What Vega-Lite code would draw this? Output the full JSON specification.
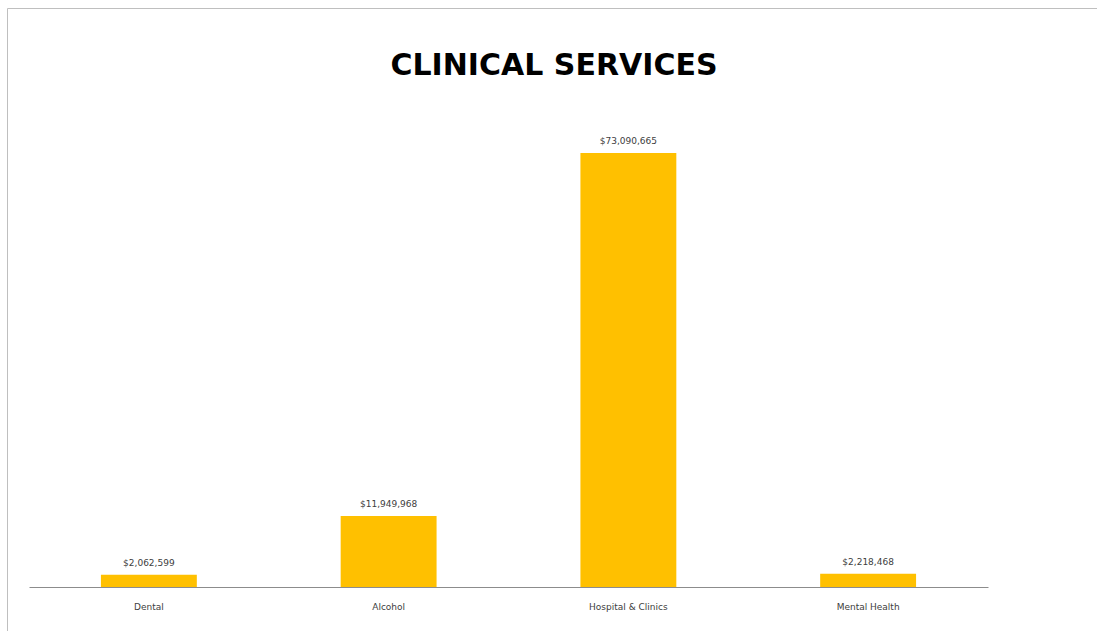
{
  "$schema": "https://vega.github.io/schema/vega-lite/v6.json",
  "autosize": {"type": "none"},
  "padding": {"left": 7, "top": 8, "right": 0, "bottom": 0},
  "width": 1100,
  "height": 640,
  "background": "white",
  "title": {
    "text": "CLINICAL SERVICES",
    "font": "DejaVu Sans",
    "fontSize": 30,
    "fontWeight": "bold",
    "color": "#000000",
    "anchor": "middle",
    "frame": "group",
    "baseline": "alphabetic",
    "offset": -67,
    "dx": -3,
    "dy": 30
  },
  "data": {
    "values": [
      {"category": "Dental", "amount": 2062599},
      {"category": "Alcohol", "amount": 11949968},
      {"category": "Hospital & Clinics", "amount": 73090665},
      {"category": "Mental Health", "amount": 2218468}
    ]
  },
  "encoding": {
    "x": {
      "field": "category",
      "type": "nominal",
      "sort": null,
      "scale": {"range": [22, 981], "paddingInner": 0.6, "paddingOuter": 0.3},
      "axis": {
        "title": null,
        "offset": -61,
        "domainColor": "#8c8c8c",
        "domainWidth": 1,
        "ticks": false,
        "labelFont": "DejaVu Sans",
        "labelFontSize": 9,
        "labelColor": "#404040",
        "labelPadding": 15,
        "labelAngle": 0
      }
    },
    "y": {
      "field": "amount",
      "type": "quantitative",
      "scale": {"domain": [0, 80000000], "range": [579, 104], "nice": false},
      "axis": null
    }
  },
  "layer": [
    {"mark": {"type": "bar", "color": "#FFC000"}},
    {
      "mark": {"type": "text", "baseline": "alphabetic", "dy": -9, "font": "DejaVu Sans", "fontSize": 9, "color": "#404040"},
      "encoding": {"text": {"field": "amount", "type": "quantitative", "format": "$,.0f"}}
    }
  ],
  "config": {"view": {"stroke": "#bfbfbf", "strokeWidth": 1}}
}
